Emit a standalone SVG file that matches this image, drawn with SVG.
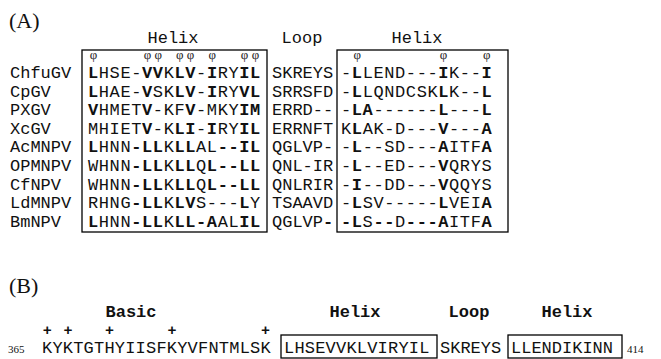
<svg xmlns="http://www.w3.org/2000/svg" width="661" height="359" viewBox="0 0 661 359">
  <style>
    text { fill: #111; }
    .m { font-family: "Liberation Mono", "DejaVu Sans Mono", monospace; font-size: 17px; }
    .s { letter-spacing: 0.6px; }
    .sb { letter-spacing: 0.2px; }
    .b { font-weight: bold; }
    .c { text-anchor: middle; }
    .plus { font-size: 15px; }
    .lbl { font-family: "Liberation Serif", serif; font-size: 22px; }
    .phi { font-family: "Liberation Serif", serif; font-size: 13px; text-anchor: middle; fill: #222; }
    .num { font-family: "Liberation Serif", serif; font-size: 11px; }
    .box { fill: none; stroke: #000; stroke-width: 1.3; }
  </style>
  <rect width="661" height="359" fill="#fff"/>

  <!-- Panel A: alignment -->
  <g id="panelA">
    <text class="lbl" x="9" y="28">(A)</text>

    <g id="headersA" class="m">
      <text class="c" x="173" y="43">Helix</text>
      <text class="c" x="302" y="43">Loop</text>
      <text class="c" x="417" y="43">Helix</text>
    </g>

    <g id="boxesA">
      <rect class="box" x="82" y="50" width="185" height="182"/>
      <rect class="box" x="337" y="50" width="171" height="182"/>
    </g>

    <!-- hydrophobic positions -->
    <g id="phiRow">
      <text class="phi" x="93.4" y="59">φ</text>
      <text class="phi" x="147.4" y="59">φ</text>
      <text class="phi" x="158.2" y="59">φ</text>
      <text class="phi" x="179.8" y="59">φ</text>
      <text class="phi" x="190.6" y="59">φ</text>
      <text class="phi" x="212.2" y="59">φ</text>
      <text class="phi" x="244.6" y="59">φ</text>
      <text class="phi" x="255.4" y="59">φ</text>
      <text class="phi" x="357.2" y="59">φ</text>
      <text class="phi" x="443.6" y="59">φ</text>
      <text class="phi" x="486.8" y="59">φ</text>
    </g>

    <g id="row-ChfuGV" class="m">
      <text x="10" y="78">ChfuGV</text>
      <text class="s" x="88" y="78"><tspan class="b">L</tspan>HSE-<tspan class="b">VV</tspan>K<tspan class="b">LV</tspan>-<tspan class="b">I</tspan>RY<tspan class="b">IL</tspan></text>
      <text x="272" y="78">SKREYS</text>
      <text class="s" x="341" y="78">-<tspan class="b">L</tspan>LEND---<tspan class="b">I</tspan>K--<tspan class="b">I</tspan></text>
    </g>
    <g id="row-CpGV" class="m">
      <text x="10" y="96.6">CpGV</text>
      <text class="s" x="88" y="96.6"><tspan class="b">L</tspan>HAE-<tspan class="b">V</tspan>SK<tspan class="b">LV</tspan>-<tspan class="b">I</tspan>RY<tspan class="b">VL</tspan></text>
      <text x="272" y="96.6">SRRSFD</text>
      <text class="s" x="341" y="96.6">-<tspan class="b">L</tspan>LQNDCSK<tspan class="b">L</tspan>K--<tspan class="b">L</tspan></text>
    </g>
    <g id="row-PXGV" class="m">
      <text x="10" y="115.2">PXGV</text>
      <text class="s" x="88" y="115.2"><tspan class="b">V</tspan>HMET<tspan class="b">V</tspan>-KF<tspan class="b">V</tspan>-MKY<tspan class="b">IM</tspan></text>
      <text x="272" y="115.2">ERRD--</text>
      <text class="s" x="341" y="115.2">-<tspan class="b">LA</tspan>------<tspan class="b">L</tspan>---<tspan class="b">L</tspan></text>
    </g>
    <g id="row-XcGV" class="m">
      <text x="10" y="133.8">XcGV</text>
      <text class="s" x="88" y="133.8">MHIET<tspan class="b">V</tspan>-K<tspan class="b">LI</tspan>-<tspan class="b">I</tspan>RY<tspan class="b">IL</tspan></text>
      <text x="272" y="133.8">ERRNFT</text>
      <text class="s" x="341" y="133.8">K<tspan class="b">L</tspan>AK-D---<tspan class="b">V</tspan>---<tspan class="b">A</tspan></text>
    </g>
    <g id="row-AcMNPV" class="m">
      <text x="10" y="152.4">AcMNPV</text>
      <text class="s" x="88" y="152.4"><tspan class="b">L</tspan>HNN<tspan class="b">-LL</tspan>K<tspan class="b">LL</tspan>AL<tspan class="b">--IL</tspan></text>
      <text x="272" y="152.4">QGLVP-</text>
      <text class="s" x="341" y="152.4">-<tspan class="b">L</tspan>--SD---<tspan class="b">A</tspan>ITF<tspan class="b">A</tspan></text>
    </g>
    <g id="row-OPMNPV" class="m">
      <text x="10" y="171">OPMNPV</text>
      <text class="s" x="88" y="171">WHNN<tspan class="b">-LL</tspan>K<tspan class="b">LL</tspan>Q<tspan class="b">L--LL</tspan></text>
      <text x="272" y="171">QNL-IR</text>
      <text class="s" x="341" y="171">-<tspan class="b">L</tspan>--ED---<tspan class="b">V</tspan>QRYS</text>
    </g>
    <g id="row-CfNPV" class="m">
      <text x="10" y="189.6">CfNPV</text>
      <text class="s" x="88" y="189.6">WHNN<tspan class="b">-LL</tspan>K<tspan class="b">LL</tspan>Q<tspan class="b">L--LL</tspan></text>
      <text x="272" y="189.6">QNLRIR</text>
      <text class="s" x="341" y="189.6">-<tspan class="b">I</tspan>--DD---<tspan class="b">V</tspan>QQYS</text>
    </g>
    <g id="row-LdMNPV" class="m">
      <text x="10" y="208.2">LdMNPV</text>
      <text class="s" x="88" y="208.2">RHNG<tspan class="b">-LL</tspan>K<tspan class="b">LV</tspan>S---<tspan class="b">L</tspan>Y</text>
      <text x="272" y="208.2">TSAAVD</text>
      <text class="s" x="341" y="208.2">-<tspan class="b">L</tspan>SV-----<tspan class="b">L</tspan>VEI<tspan class="b">A</tspan></text>
    </g>
    <g id="row-BmNPV" class="m">
      <text x="10" y="226.8">BmNPV</text>
      <text class="s" x="88" y="226.8"><tspan class="b">L</tspan>HNN<tspan class="b">-LL</tspan>K<tspan class="b">LL-A</tspan>AL<tspan class="b">IL</tspan></text>
      <text x="272" y="226.8">QGLVP<tspan class="b">-</tspan></text>
      <text class="s" x="341" y="226.8"><tspan class="b">-L</tspan>S<tspan class="b">--</tspan>D<tspan class="b">---A</tspan>ITF<tspan class="b">A</tspan></text>
    </g>
  </g>

  <!-- Panel B: domain sequence -->
  <g id="panelB">
    <text class="lbl" x="9" y="293">(B)</text>

    <g id="headersB" class="m b">
      <text class="c" x="131" y="317">Basic</text>
      <text class="c" x="355" y="317">Helix</text>
      <text class="c" x="469" y="317">Loop</text>
      <text class="c" x="567" y="317">Helix</text>
    </g>

    <g id="basicCharges" class="m b plus">
      <text class="c" x="47.2" y="335">+</text>
      <text class="c" x="68" y="335">+</text>
      <text class="c" x="109.6" y="335">+</text>
      <text class="c" x="172" y="335">+</text>
      <text class="c" x="265.6" y="335">+</text>
    </g>

    <g id="boxesB">
      <rect class="box" x="281" y="335" width="156" height="23"/>
      <rect class="box" x="508" y="335" width="114" height="23"/>
    </g>

    <g id="sequenceB" class="m">
      <text class="num" x="8" y="353">365</text>
      <text class="sb" x="42" y="353">KYKTGTHYIISFKYVFNTMLSK</text>
      <text class="sb" x="284" y="353">LHSEVVKLVIRYIL</text>
      <text x="440" y="353">SKREYS</text>
      <text x="511" y="353">LLENDIKINN</text>
      <text class="num" x="627" y="353">414</text>
    </g>
  </g>
</svg>
